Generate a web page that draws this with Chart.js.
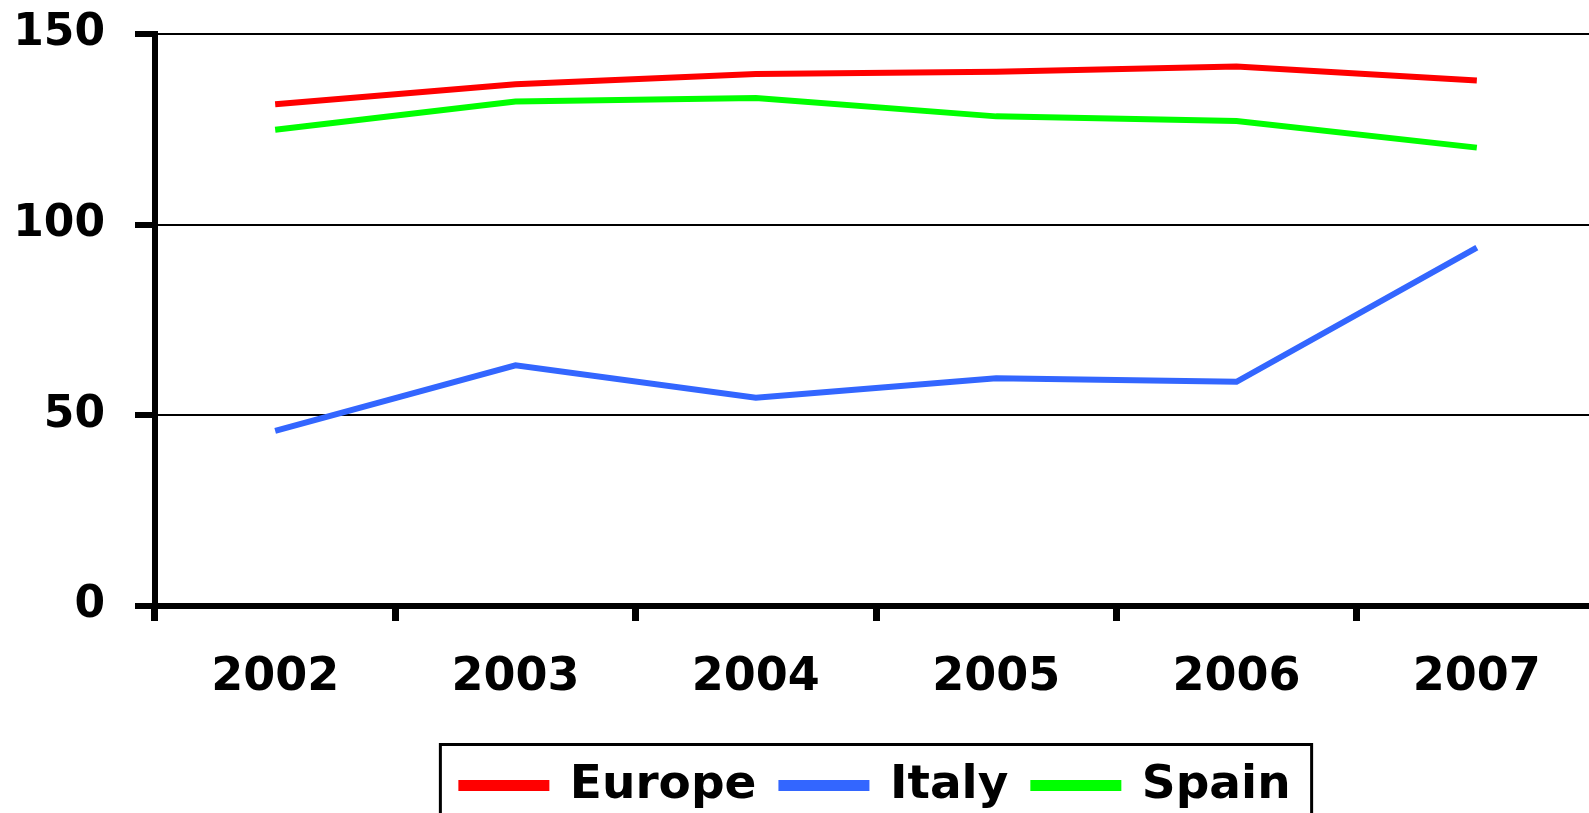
<!DOCTYPE html>
<html>
<head>
<meta charset="utf-8">
<title>Europe / Italy / Spain</title>
<script src="https://cdn.jsdelivr.net/npm/chart.js@4/dist/chart.umd.min.js"></script>
<style>
  html, body { margin:0; padding:0; background:#fff; overflow:hidden; }
  #wrap { position:absolute; left:0; top:0; width:1752px; height:834px; }
</style>
</head>
<body>
<div id="wrap"><canvas id="chart"></canvas></div>
<script>
// values
const years  = ["2002","2003","2004","2005","2006","2007"];
const europe = [131.6, 136.8, 139.5, 140.1, 141.5, 137.8];
const italy  = [45.9, 63.1, 54.6, 59.7, 58.8, 94.0];
const spain  = [124.9, 132.3, 133.2, 128.4, 127.2, 120.2];
const yTicks = [0, 50, 100, 150];

const font = { family:"'DejaVu Sans', Verdana, sans-serif", weight:'bold' };

// frame around the legend (cut off by the bottom edge like in the reference)
const legendFrame = {
  id:'legendFrame',
  afterDraw(chart){
    const lg = chart.legend;
    if(!lg || !lg.legendHitBoxes || !lg.legendHitBoxes.length) return;
    const hb = lg.legendHitBoxes;
    const left = Math.min(...hb.map(h=>h.left)) - 21;
    const right = Math.max(...hb.map(h=>h.left + h.width)) + 21;
    const cy = hb[0].top + hb[0].height/2;
    const ctx = chart.ctx;
    ctx.save();
    ctx.strokeStyle = '#000'; ctx.lineWidth = 3;
    ctx.strokeRect(left, cy - 41, right - left, 120);
    ctx.restore();
  }
};

const ds = (label, data, color) => ({
  label, data, borderColor:color, backgroundColor:color,
  borderWidth:6, pointRadius:0, pointHoverRadius:0, tension:0, fill:false
});

new Chart(document.getElementById('chart'), {
  type:'line',
  data:{
    labels: years,
    datasets:[ ds('Europe', europe, '#ff0000'), ds('Italy', italy, '#3366ff'), ds('Spain', spain, '#00ff00') ]
  },
  options:{
    responsive:true, maintainAspectRatio:false, animation:false,
    layout:{ padding:{ left:0, right:155, top:34, bottom:15 } },
    plugins:{
      tooltip:{ enabled:false },
      legend:{
        position:'bottom',
        fullSize:false,   // centre the legend under the plot area
        labels:{ boxWidth:85, boxHeight:5, padding:25, color:'#000', font:{...font, size:47} }
      }
    },
    scales:{
      x:{
        offset:true,
        grid:{ offset:true, drawOnChartArea:false, color:'#000', tickLength:15, tickWidth:7 },
        border:{ display:true, color:'#000', width:6 },
        ticks:{ color:'#000', padding:29, maxRotation:0, font:{...font, size:46} },
        afterFit(s){ s.height = 131; }
      },
      y:{
        min:0, max:150,
        afterBuildTicks(s){ s.ticks = yTicks.map(v=>({value:v})); },
        grid:{ color:'#000', lineWidth:2, tickLength:20, tickWidth:6, tickColor:'#000' },
        border:{ display:true, color:'#000', width:6 },
        ticks:{ color:'#000', padding:30, font:{...font, size:44} },
        afterFit(s){ s.width = 155; s.paddingTop = 0; s.paddingBottom = 0; }
      }
    }
  },
  plugins:[legendFrame]
});
</script>
</body>
</html>
